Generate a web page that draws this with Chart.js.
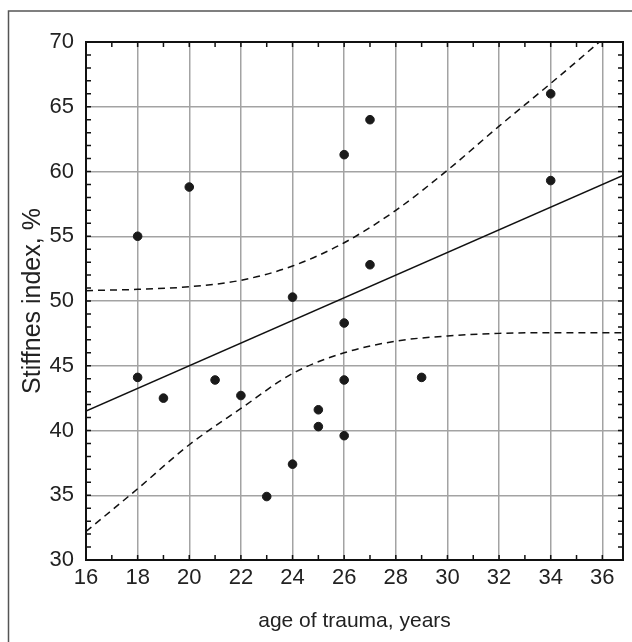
<!DOCTYPE html>
<html>
<head>
<meta charset="utf-8">
<script src="https://cdn.jsdelivr.net/npm/chart.js@4.4.0/dist/chart.umd.min.js"></script>
<style>
	html, body { margin: 0; padding: 0; background: #fff; }
	#wrap { width: 632px; height: 642px; position: relative; }
</style>
</head>
<body>
<div id="wrap"><canvas id="stiffChart" width="632" height="642"></canvas></div>
<script>
// 축 눈금
const xTicks = [16, 18, 20, 22, 24, 26, 28, 30, 32, 34, 36];
const yTicks = [30, 35, 40, 45, 50, 55, 60, 65, 70];

// 측정값 (나이, 강성지수)
const ageX   = [18, 18, 19, 20, 21, 22, 23, 24, 24, 25, 25, 26, 26, 26, 26, 27, 27, 29, 34, 34];
const stiffY = [55.0, 44.1, 42.5, 58.8, 43.9, 42.7, 34.9, 50.3, 37.4, 41.6, 40.3, 61.3, 48.3, 43.9, 39.6, 64.0, 52.8, 44.1, 66.0, 59.3];

// 회귀선
const fitX = [16, 36.8];
const fitY = [41.5, 59.7];

// 신뢰구간 (위/아래)
const bandX  = [16, 18, 20, 22, 24, 26, 28, 30, 32, 34, 36, 36.8];
const upperY = [50.8, 50.9, 51.1, 51.6, 52.7, 54.5, 57.0, 60.1, 63.5, 66.8, 70.2, 71.6];
const lowerY = [32.2, 35.5, 38.9, 41.7, 44.4, 46.0, 46.9, 47.3, 47.5, 47.55, 47.55, 47.55];

function toPoints(xs, ys) {
	return xs.map(function(x, i) { return { x: x, y: ys[i] }; });
}

const FONT = "'Liberation Sans', Arial, sans-serif";

// 바깥 테두리, 플롯 테두리, 안쪽 눈금
const framePlugin = {
	id: 'frame',
	beforeDraw: function(chart) {
		const ctx = chart.ctx;
		ctx.save();
		ctx.strokeStyle = '#555';
		ctx.lineWidth = 1.5;
		ctx.strokeRect(8.5, 11, 700, 700);
		ctx.restore();
	},
	afterDraw: function(chart) {
		const ctx = chart.ctx;
		const a = chart.chartArea;
		const xs = chart.scales.x;
		const ys = chart.scales.y;
		ctx.save();
		ctx.strokeStyle = '#111';
		ctx.lineWidth = 1.5;
		ctx.beginPath();
		for (let v = Math.ceil(xs.min); v <= xs.max; v++) {
			const p = xs.getPixelForValue(v);
			ctx.moveTo(p, a.bottom); ctx.lineTo(p, a.bottom - 5);
			ctx.moveTo(p, a.top); ctx.lineTo(p, a.top + 5);
		}
		for (let v = Math.ceil(ys.min); v <= ys.max; v++) {
			const p = ys.getPixelForValue(v);
			ctx.moveTo(a.left, p); ctx.lineTo(a.left + 5, p);
			ctx.moveTo(a.right, p); ctx.lineTo(a.right - 5, p);
		}
		ctx.stroke();
		ctx.lineWidth = 2;
		ctx.strokeRect(a.left, a.top, a.right - a.left, a.bottom - a.top);
		ctx.restore();
	}
};

const ctx = document.getElementById('stiffChart').getContext('2d');
new Chart(ctx, {
	type: 'scatter',
	data: {
		datasets: [{
			label: 'data',
			data: toPoints(ageX, stiffY),
			backgroundColor: '#1a1a1a',
			borderColor: '#1a1a1a',
			pointRadius: 4.3,
			order: 0
		}, {
			label: 'fit',
			data: toPoints(fitX, fitY),
			showLine: true,
			borderColor: '#111',
			borderWidth: 1.5,
			pointRadius: 0,
			order: 1
		}, {
			label: 'upper',
			data: toPoints(bandX, upperY),
			showLine: true,
			borderColor: '#111',
			borderWidth: 1.5,
			borderDash: [7, 5],
			cubicInterpolationMode: 'monotone',
			pointRadius: 0,
			order: 2
		}, {
			label: 'lower',
			data: toPoints(bandX, lowerY),
			showLine: true,
			borderColor: '#111',
			borderWidth: 1.5,
			borderDash: [7, 5],
			cubicInterpolationMode: 'monotone',
			pointRadius: 0,
			order: 2
		}]
	},
	options: {
		responsive: false,
		animation: false,
		layout: { padding: { left: 0, top: 42, right: 9, bottom: 0 } },
		plugins: {
			legend: { display: false },
			tooltip: { enabled: false }
		},
		scales: {
			x: {
				type: 'linear',
				min: 16,
				max: 36.8,
				afterBuildTicks: function(scale) {
					scale.ticks = xTicks.map(function(v) { return { value: v }; });
				},
				afterFit: function(scale) { scale.height = 82; },
				border: { display: false },
				grid: { color: '#a3a3a3', lineWidth: 1.5, drawTicks: false },
				ticks: {
					padding: 5,
					color: '#222',
					font: { family: FONT, size: 22 }
				},
				title: {
					display: true,
					text: 'age of trauma, years',
					color: '#222',
					font: { family: FONT, size: 21 },
					padding: { top: 0, bottom: 8 }
				}
			},
			y: {
				type: 'linear',
				min: 30,
				max: 70,
				afterBuildTicks: function(scale) {
					scale.ticks = yTicks.map(function(v) { return { value: v }; });
				},
				afterFit: function(scale) { scale.width = 86; },
				border: { display: false },
				grid: { color: '#a3a3a3', lineWidth: 1.5, drawTicks: false },
				ticks: {
					padding: 12,
					color: '#222',
					font: { family: FONT, size: 22 }
				},
				title: {
					display: true,
					text: 'Stiffnes index, %',
					color: '#222',
					font: { family: FONT, size: 25 },
					padding: { top: 18, bottom: 0 }
				}
			}
		}
	},
	plugins: [framePlugin]
});
</script>
</body>
</html>
